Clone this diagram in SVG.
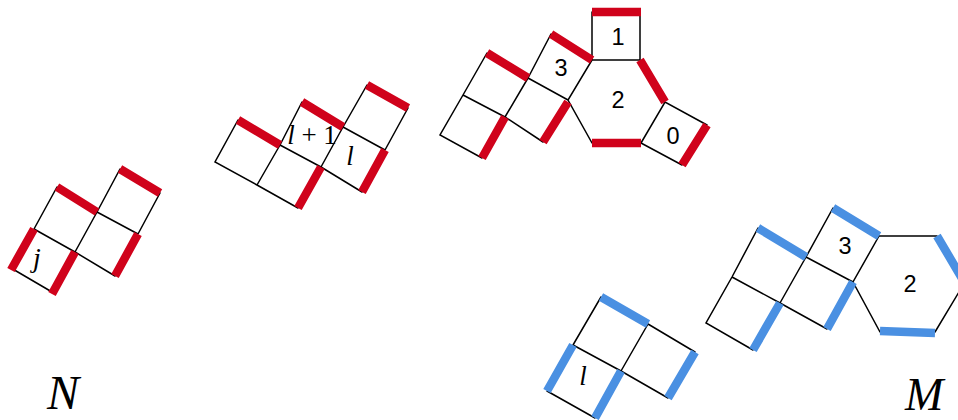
<svg xmlns="http://www.w3.org/2000/svg" width="958" height="420" viewBox="0 0 958 420">
<style>
.k{stroke:#000;stroke-width:1.5;fill:none;stroke-linecap:round}
.r{stroke:#d0021b;stroke-width:8.5;fill:none}
.b{stroke:#4a90e2;stroke-width:8.5;fill:none}
.m{font-family:"Liberation Serif",serif;font-style:italic;fill:#000}
.s{font-family:"Liberation Sans",sans-serif;font-size:23.5px;fill:#000;text-anchor:middle}
</style>
<rect width="958" height="420" fill="#fff"/>
<g id="connectors">
<path class="k" d="M57 187L34 229M97 212L75 252M34 229L75 252L115 276M11 268L52 292M120 169L97 212M160 193L138 234M97 212L138 234"/>
<path class="r" d="M57 187L97 212M120 169L160 193M34 229L11 270M75 252L52 294M138 234L115 276"/>
<path class="k" d="M238 120L215 162L257 185L298 208M280 145L257 185M280 145L321 167L362 192M302 102L280 145M343 127L321 167M343 127L385 150M367 85L343 127M408 108L385 150"/>
<path class="r" d="M238 120L280 145M302 102L343 127M367 85L408 108M321 167L298 208M385 150L362 192"/>
<path class="k" d="M487 53L463 95L440 135L482 158M528 78L505 117M463 95L505 117L543 142M528 78L568 100M551 34L528 78M592 60L568 100L592 143M592 60H640M592 12V60M640 12V60M641 143L665 102L707 125M641 143L682 165"/>
<path class="r" d="M487 53L528 78M551 34L592 60M592 12H641M640 60L665 102M592 143H641M707 125L682 165M505 117L482 158M568 102L543 142"/>
<path class="k" d="M601 297L573 345M648 324L621 371M573 345L621 371L668 398M648 324L695 352M547 391L595 418"/>
<path class="b" d="M601 297L648 324M573 345L547 391M621 371L595 418M695 352L668 398"/>
<path class="k" d="M758 228L732 277L706 323L753 350M806 257L780 303M732 277L780 303L827 329M806 257L853 282M833 208L806 257M879 236L853 282L880 332M879 236H937M935 332L965 282"/>
<path class="b" d="M758 228L806 257M833 208L879 236M780 303L753 350M853 282L827 329M880 331L935 333M937 236L963 280"/>
</g>
<g id="node-j"><text class="m" x="37" y="267" font-size="28" text-anchor="middle">j</text></g>
<g id="node-l1"><text class="m" x="312" y="144" font-size="27" text-anchor="middle">l<tspan font-style="normal"> + 1</tspan></text></g>
<g id="node-l"><text class="m" x="350" y="165" font-size="27" text-anchor="middle">l</text></g>
<g id="node-red-1"><text class="s" x="618" y="45">1</text></g>
<g id="node-red-3"><text class="s" x="561" y="76">3</text></g>
<g id="node-red-2"><text class="s" x="618" y="108">2</text></g>
<g id="node-red-0"><text class="s" x="673" y="144">0</text></g>
<g id="node-blue-l"><text class="m" x="583" y="385" font-size="27" text-anchor="middle">l</text></g>
<g id="node-blue-3"><text class="s" x="845" y="254">3</text></g>
<g id="node-blue-2"><text class="s" x="910" y="292">2</text></g>
<g id="label-N"><text class="m" x="47" y="409" font-size="48">N</text></g>
<g id="label-M"><text class="m" x="905" y="410" font-size="46">M</text></g>
</svg>
